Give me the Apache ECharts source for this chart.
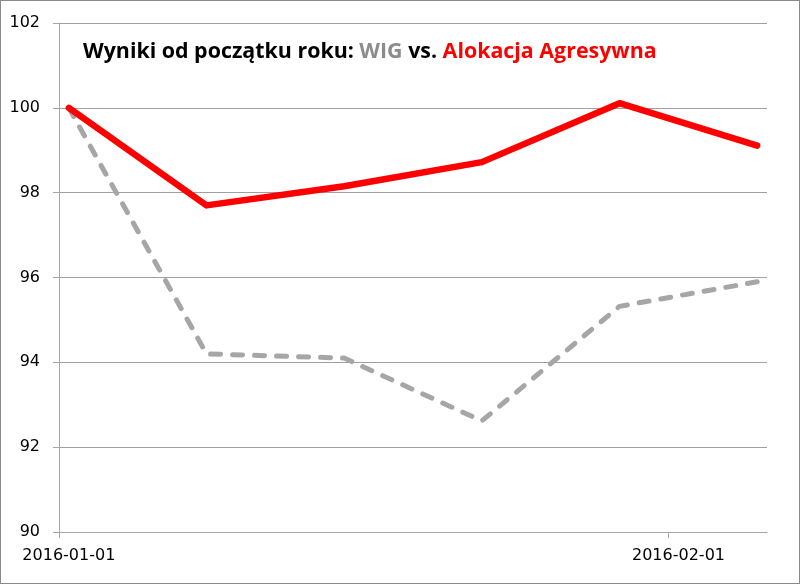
<!DOCTYPE html>
<html>
<head>
<meta charset="utf-8">
<script src="https://cdn.jsdelivr.net/npm/echarts@6/dist/echarts.min.js"></script>
<style>
html,body{margin:0;padding:0;background:#fff;}
#c{width:798px;height:582px;border:1px solid #8a8a8a;}
</style>
</head>
<body>
<div id="c"></div>
<script>
// Data
var dates = ['2016-01-01','2016-01-08','2016-01-15','2016-01-22','2016-01-29','2016-02-05'];
var wig = [100, 94.2, 94.1, 92.62, 95.32, 95.9];
var agresywna = [100, 97.7, 98.15, 98.72, 100.11, 99.11];
var yTicks = [90, 92, 94, 96, 98, 100, 102];
var xTickDates = ['2016-01-01','2016-02-01'];
var axisStart = '2016-01-01';
var axisEnd = '2016-02-06';

var DAY = 86400000;
function dayOf(s){ return (Date.parse(s + 'T00:00:00Z') - Date.parse(axisStart + 'T00:00:00Z')) / DAY; }
function fmt(d){ var t = new Date(Date.parse(axisStart + 'T00:00:00Z') + Math.floor(d) * DAY); return t.toISOString().slice(0,10); }

// points sit in the middle of their day (date axis, between tick marks)
var wigData = dates.map(function(d,i){ return [dayOf(d) + 0.5, wig[i]]; });
var agrData = dates.map(function(d,i){ return [dayOf(d) + 0.5, agresywna[i]]; });
var tickVals = xTickDates.map(dayOf);
var labelVals = xTickDates.map(function(d){ return dayOf(d) + 0.5; });

var chart = echarts.init(document.getElementById('c'));
chart.setOption({
  animation: false,
  title: {
    left: 77, top: 35,
    text: '{b|Wyniki od początku roku: }{g|WIG}{b| vs. }{r|Alokacja Agresywna}',
    textStyle: {
      rich: {
        b: {fontFamily: 'Open Sans', fontWeight: 'bold', fontSize: 21.4, color: '#000'},
        g: {fontFamily: 'Open Sans', fontWeight: 'bold', fontSize: 21.4, color: '#8c8c8c'},
        r: {fontFamily: 'Open Sans', fontWeight: 'bold', fontSize: 21.4, color: '#ff0000'}
      }
    }
  },
  grid: {left: 58, right: 32, top: 22, bottom: 51},
  xAxis: {
    type: 'value',
    min: 0, max: dayOf(axisEnd),
    axisLine: {show: true, onZero: false, lineStyle: {color: '#a6a6a6', width: 1}},
    axisTick: {show: true, length: 6, customValues: tickVals, lineStyle: {color: '#a6a6a6'}},
    splitLine: {show: false},
    axisLabel: {
      customValues: labelVals,
      formatter: function(v){ return fmt(v); },
      fontFamily: 'DejaVu Sans', fontSize: 16, color: '#000', margin: 16
    }
  },
  yAxis: {
    type: 'value',
    min: yTicks[0], max: yTicks[yTicks.length-1], interval: 2,
    axisLine: {show: true, lineStyle: {color: '#a6a6a6', width: 1}},
    axisTick: {show: true, length: 6, lineStyle: {color: '#a6a6a6'}},
    splitLine: {show: true, lineStyle: {color: '#a0a0a0', width: 1}},
    axisLabel: {fontFamily: 'DejaVu Sans', fontSize: 16, color: '#000', margin: 19}
  },
  series: [
    {
      name: 'WIG', type: 'line', data: wigData, showSymbol: false, symbol: 'none',
      lineStyle: {color: '#a6a6a6', width: 5, type: [10, 12], cap: 'round', join: 'round'},
      z: 2
    },
    {
      name: 'Alokacja Agresywna', type: 'line', data: agrData, showSymbol: false, symbol: 'none',
      lineStyle: {color: '#ff0000', width: 6.5, cap: 'round', join: 'round'},
      z: 3
    }
  ]
});
</script>
</body>
</html>
